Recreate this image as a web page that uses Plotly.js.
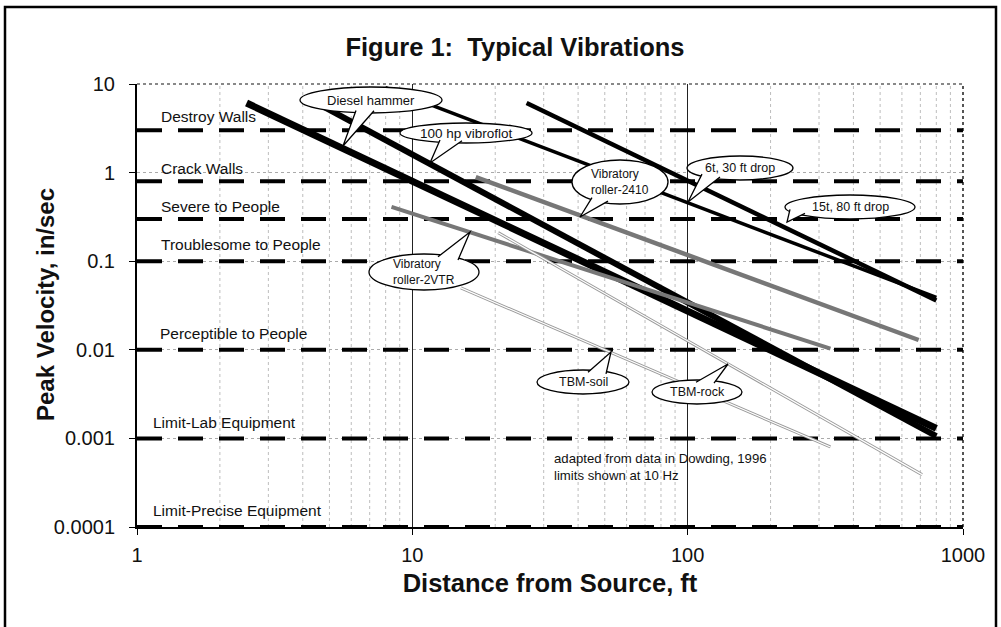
<!DOCTYPE html>
<html><head><meta charset="utf-8">
<script src="https://cdn.plot.ly/plotly-3.0.1.min.js"></script>
<style>html,body{margin:0;padding:0;background:#fff;} #chart{width:1001px;height:627px;}</style>
</head><body><div id="chart"></div>
<script>
// ---------------- data ----------------
const thresholdLabels = ["Destroy Walls", "Crack Walls", "Severe to People", "Troublesome to People",
  "Perceptible to People", "Limit-Lab Equipment", "Limit-Precise Equipment"];
const thresholdVelocity = [3, 0.8, 0.3, 0.1, 0.01, 0.001, 0.0001];

const sourceNames = ["Diesel hammer", "100 hp vibroflot", "6t, 30 ft drop", "15t, 80 ft drop",
  "Vibratory roller-2410", "Vibratory roller-2VTR", "TBM-soil", "TBM-rock"];
const startDistance = [2.5, 4.1, 8.0, 26, 17, 8.4, 15, 20.5];
const startVelocity = [6.1, 7.1, 9.1, 6.1, 0.89, 0.41, 0.05, 0.21];
const endDistance   = [800, 800, 800, 800, 690, 330, 330, 710];
const endVelocity   = [0.0013, 0.00106, 0.039, 0.036, 0.0129, 0.0103, 0.0008, 0.00039];

const xTickVals = [1, 10, 100, 1000];
const xTickText = ["1", "10", "100", "1000"];
const xMinorVals = [2, 3, 4, 5, 6, 7, 8, 9, 20, 30, 40, 50, 60, 70, 80, 90, 200, 300, 400, 500, 600, 700, 800, 900];
const yTickVals = [0.0001, 0.001, 0.01, 0.1, 1, 10];
const yTickText = ["0.0001", "0.001", "0.01", "0.1", "1", "10"];

const noteText = "adapted from data in Dowding, 1996<br>limits shown at 10 Hz";

// ---------------- layout helpers ----------------
const W = 1001, H = 627, ML = 137, MR = 38, MT = 84, MB = 100;
const PW = W - ML - MR, PH = H - MT - MB;
const P = px => (px - ML) / PW;
const Q = py => (H - MB - py) / PH;
const FONT = "Liberation Sans, Arial, sans-serif";

// styles per source line (same order as sourceNames)
const lineStyles = [
  {color: "#000", width: 7},
  {color: "#000", width: 6},
  {color: "#000", width: 3.5},
  {color: "#000", width: 4.5},
  {color: "#777", width: 4.5},
  {color: "#777", width: 4},
  {color: "#999", width: 3, hollow: true},
  {color: "#999", width: 3, hollow: true}
];

const traces = [];
// minor dotted gridlines (at the axis' minor tick positions)
const gx = [], gy = [];
xMinorVals.forEach(v => { gx.push(v, v, null); gy.push(yTickVals[0], yTickVals[yTickVals.length - 1], null); });
traces.push({x: gx, y: gy, mode: "lines", type: "scatter", hoverinfo: "skip", name: "grid",
  line: {color: "#bdbdbd", width: 1, dash: "dot"}});

// threshold dashed lines
thresholdVelocity.forEach((v, i) => {
  traces.push({x: [xTickVals[0], xTickVals[3]], y: [v, v], mode: "lines", type: "scatter",
    name: thresholdLabels[i], hoverinfo: "name",
    line: {color: "#000", width: 4, dash: "25px,16px"}});
});
// source lines
sourceNames.forEach((n, i) => {
  const s = lineStyles[i];
  traces.push({x: [startDistance[i], endDistance[i]], y: [startVelocity[i], endVelocity[i]],
    mode: "lines", type: "scatter", name: n, line: {color: s.color, width: s.width}});
  if (s.hollow) {
    traces.push({x: [startDistance[i], endDistance[i]], y: [startVelocity[i], endVelocity[i]],
      mode: "lines", type: "scatter", name: n, hoverinfo: "skip",
      line: {color: "#fff", width: 1.2}});
  }
});

// threshold label placement (pixel offsets above line, left x in pixels)
const labelLeft = [159, 159, 159, 159, 158, 151, 151];
const labelShift = [14, 13, 12, 17, 16, 16, 17];

const annotations = [];
thresholdLabels.forEach((t, i) => {
  annotations.push({text: t, xref: "paper", yref: "y", x: P(labelLeft[i]), y: Math.log10(thresholdVelocity[i]),
    xanchor: "left", yanchor: "middle", yshift: labelShift[i], showarrow: false,
    font: {family: FONT, size: 15.5, color: "#111"}});
});

// callout bubbles (pixel geometry)
const bubbles = [
  {cx: 371, cy: 100, rx: 71, ry: 13, xa: 356, xb: 374, side: 1, tip: [343, 146], font: 13},
  {cx: 466, cy: 133, rx: 66, ry: 10, xa: 440, xb: 462, side: 1, tip: [430, 163], font: 13.5},
  {cx: 740, cy: 168, rx: 53, ry: 12, xa: 702, xb: 720, side: 1, tip: [688, 202], font: 12.5},
  {cx: 850, cy: 207, rx: 65, ry: 12, xa: 790, xb: 805, side: 1, tip: [787, 222], font: 12.5},
  {cx: 620, cy: 182, rx: 48, ry: 22, xa: 592, xb: 608, side: 1, tip: [580, 217], font: 12},
  {cx: 424, cy: 272, rx: 55, ry: 18, xa: 438, xb: 458, side: -1, tip: [470, 232], font: 12},
  {cx: 583, cy: 382, rx: 46, ry: 12, xa: 588, xb: 606, side: -1, tip: [611, 352], font: 12.5},
  {cx: 697, cy: 392, rx: 45, ry: 12, xa: 696, xb: 714, side: -1, tip: [728, 364], font: 12.5}
];
const bubbleText = [sourceNames[0], sourceNames[1], sourceNames[2], sourceNames[3],
  "Vibratory<br>roller-2410", "Vibratory<br>roller-2VTR", sourceNames[6], sourceNames[7]];

const shapes = [];
bubbles.forEach((b, i) => {
  shapes.push({type: "circle", xref: "paper", yref: "paper",
    x0: P(b.cx - b.rx), x1: P(b.cx + b.rx), y0: Q(b.cy + b.ry), y1: Q(b.cy - b.ry),
    fillcolor: "#fff", line: {color: "#000", width: 1.3}});
  const ey = x => b.cy + b.side * (b.ry * Math.sqrt(Math.max(0, 1 - Math.pow((x - b.cx) / b.rx, 2))) - 2.2);
  const path = "M" + P(b.xa) + "," + Q(ey(b.xa)) + " L" + P(b.tip[0]) + "," + Q(b.tip[1]) +
    " L" + P(b.xb) + "," + Q(ey(b.xb));
  shapes.push({type: "path", xref: "paper", yref: "paper", path: path,
    fillcolor: "#fff", line: {color: "#000", width: 1.3}});
  annotations.push({text: bubbleText[i], xref: "paper", yref: "paper", x: P(b.cx), y: Q(b.cy),
    xanchor: "center", yanchor: "middle", showarrow: false, align: "left",
    font: {family: FONT, size: b.font, color: "#111"}});
});

// note
annotations.push({text: noteText, xref: "paper", yref: "paper", x: P(552), y: Q(467),
  xanchor: "left", yanchor: "middle", align: "left", showarrow: false,
  font: {family: FONT, size: 13.2, color: "#111"}});

// y axis title placed precisely
annotations.push({text: "<b>Peak Velocity, in/sec</b>", xref: "paper", yref: "paper", x: P(45), y: Q(305),
  xanchor: "center", yanchor: "middle", textangle: -90, showarrow: false,
  font: {family: FONT, size: 24, color: "#111"}});

// plot frame (top & right) and outer figure border
shapes.push({type: "line", xref: "paper", yref: "paper", x0: 0, x1: 1, y0: 1, y1: 1,
  line: {color: "#888", width: 2, dash: "dot"}, layer: "below"});
shapes.push({type: "line", xref: "paper", yref: "paper", x0: 1, x1: 1, y0: 0, y1: 1,
  line: {color: "#555", width: 2, dash: "dot"}, layer: "below"});
shapes.push({type: "rect", xref: "paper", yref: "paper", x0: P(5), x1: P(996), y0: Q(660), y1: Q(7),
  line: {color: "#000", width: 2.5}, fillcolor: "rgba(0,0,0,0)"});

const layout = {
  width: W, height: H,
  margin: {l: ML, r: MR, t: MT, b: MB, pad: 0},
  paper_bgcolor: "#fff", plot_bgcolor: "#fff",
  showlegend: false,
  font: {family: FONT, color: "#111"},
  title: {text: "<b>Figure 1:  Typical Vibrations</b>", x: 515 / W, xanchor: "center",
    y: 1 - 47 / H, yanchor: "middle", yref: "container",
    font: {family: FONT, size: 25.5, color: "#111"}},
  xaxis: {type: "log", range: [0, 3], tickvals: xTickVals, ticktext: xTickText,
    showline: true, linecolor: "#000", linewidth: 1.5, ticks: "outside", ticklen: 6, tickcolor: "#000",
    ticklabelstandoff: 3,
    tickfont: {family: FONT, size: 20, color: "#111"},
    showgrid: true, gridcolor: "#222", gridwidth: 1,
    zeroline: false, automargin: false,
    title: {text: "<b>Distance from Source, ft</b>", standoff: 9,
      font: {family: FONT, size: 25.5, color: "#111"}}},
  yaxis: {type: "log", range: [-4, 1], tickvals: yTickVals, ticktext: yTickText,
    showline: true, linecolor: "#000", linewidth: 2, ticks: "outside", ticklen: 6, tickcolor: "#000",
    ticklabelstandoff: 10,
    tickfont: {family: FONT, size: 20, color: "#111"},
    showgrid: true, gridcolor: "#aaa", griddash: "dot", gridwidth: 1,
    zeroline: false, automargin: false},
  shapes: shapes,
  annotations: annotations
};

Plotly.newPlot("chart", traces, layout, {displayModeBar: false, staticPlot: true});
</script>
</body></html>
